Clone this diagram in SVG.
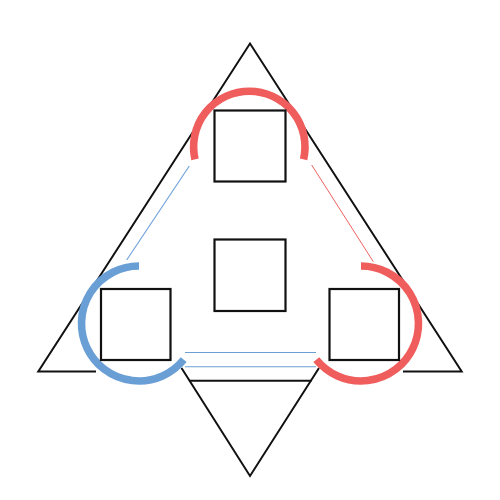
<svg xmlns="http://www.w3.org/2000/svg" width="500" height="500" viewBox="0 0 500 500">
  <style>
    .blk{fill:none;stroke:#111;stroke-width:2;stroke-linejoin:miter}
    .sq{fill:none;stroke:#111;stroke-width:2.2}
    .thinb{fill:none;stroke:#6a9fd6;stroke-width:1.1}
    .thinr{fill:none;stroke:#f06262;stroke-width:1}
    .arcb{fill:none;stroke:#6a9fd6;stroke-width:7.6}
    .arcr{fill:none;stroke:#f05d5d;stroke-width:7.6}
  </style>
  <rect x="0" y="0" width="500" height="500" fill="#fff"/>
  <g id="connectors">
    <path class="blk" d="M96,371.5 L38.3,371.5 L250,43.5 L461.7,371.5 L403,371.5"/>
    <path class="blk" d="M181.5,368 L250,476 L319,368"/>
    <line class="blk" x1="189" y1="380.8" x2="311.5" y2="380.8" stroke-width="1.3"/>
    <line class="thinb" x1="185" y1="352.5" x2="316" y2="352.5"/>
    <line class="thinb" x1="185" y1="366.8" x2="316" y2="366.8"/>
    <line class="thinb" x1="189.3" y1="166" x2="126.7" y2="260"/>
    <line class="thinr" x1="311.7" y1="165" x2="373.3" y2="261.7"/>
  </g>
  <g id="arc-top"><path class="arcr" d="M195,159.3 A55.7,55.7 0 1 1 303.6,159.3"/></g>
  <g id="arc-left"><path class="arcb" d="M139,266 A57.5,57.5 0 1 0 183.7,359.7"/></g>
  <g id="arc-right"><path class="arcr" d="M361,266 A57.5,57.5 0 1 1 316.3,359.7"/></g>
  <g id="node-top"><rect class="sq" x="214.5" y="110.5" width="71" height="71"/></g>
  <g id="node-center"><rect class="sq" x="214.5" y="239.5" width="71" height="71.5"/></g>
  <g id="node-left"><rect class="sq" x="101" y="289" width="69.5" height="71"/></g>
  <g id="node-right"><rect class="sq" x="329.5" y="289" width="69.5" height="71"/></g>
</svg>
